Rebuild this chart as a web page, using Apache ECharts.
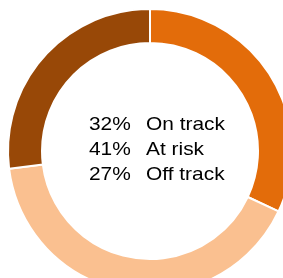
<!DOCTYPE html>
<html>
<head>
<meta charset="utf-8">
<script src="https://cdn.jsdelivr.net/npm/echarts@6/dist/echarts.min.js"></script>
<style>
  html, body { margin: 0; padding: 0; background: #fff; }
  #main { width: 283px; height: 278px; }
</style>
</head>
<body>
<div id="main"></div>
<script>
// 状态占比
let names = ['On track', 'At risk', 'Off track']
let values = [32, 41, 27]
let colors = ['#E36C0A', '#FAC090', '#984807']

let chart = echarts.init(document.getElementById('main'))

let pieData = names.map((n, i) => ({ name: n, value: values[i], itemStyle: { color: colors[i] } }))

// 中间文字
let font = '19px "Liberation Sans", Arial'
let texts = []
names.forEach((n, i) => {
  let y = 115.5 + i * 24.7
  texts.push({
    type: 'text', x: 89, y: y, scaleX: 1.1,
    style: { text: values[i] + '%', font: font, fill: '#000', verticalAlign: 'top' }
  })
  texts.push({
    type: 'text', x: 146, y: y, scaleX: 1.1,
    style: { text: n, font: font, fill: '#000', verticalAlign: 'top' }
  })
})

chart.setOption({
  animation: false,
  series: [{
    type: 'pie',
    center: [150, 151],
    radius: [108, 142],
    startAngle: 90,
    clockwise: true,
    label: { show: false },
    labelLine: { show: false },
    emphasis: { disabled: true },
    itemStyle: { borderColor: '#fff', borderWidth: 2 },
    data: pieData
  }],
  graphic: texts
})
</script>
</body>
</html>
